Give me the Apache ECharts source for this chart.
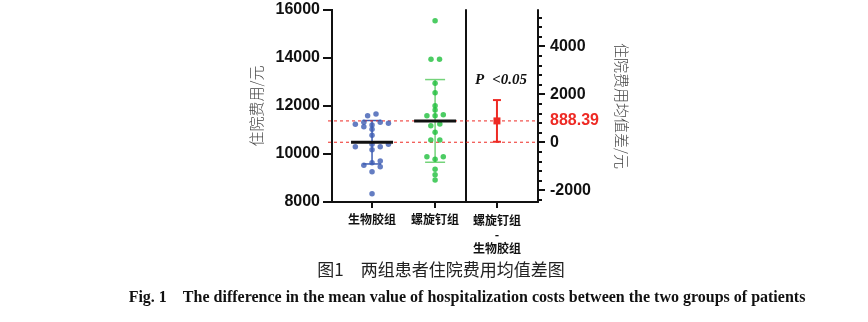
<!DOCTYPE html>
<html>
<head>
<meta charset="utf-8">
<script src="https://cdn.jsdelivr.net/npm/echarts@6/dist/echarts.min.js"></script>
<style>html,body{margin:0;padding:0;background:#fff;}#c{width:868px;height:322px;}</style>
</head>
<body>
<div id="c"></div>
<script>
// ---- data ----
const categories = ['生物胶组', '螺旋钉组', '螺旋钉组\n-\n生物胶组'];
const bioGlueCost   = [11596, 11667, 11237, 11320, 11140, 11208, 11320, 11279, 11029, 10779, 10304, 10404, 10304, 10404, 10179, 9708, 9529, 9638, 9471, 9263, 8346];
const bioGlueJitter = [-0.07, 0.063, -0.265, -0.13, -0.13, 0, 0.13, 0.26, 0, 0, -0.265, 0, 0.13, 0.26, 0, 0.13, -0.13, 0, 0.13, 0, 0];
const screwCost     = [15554, 13946, 13946, 12946, 12554, 12013, 11833, 11596, 11596, 11638, 11179, 11250, 10904, 10583, 10583, 9888, 9779, 9888, 9363, 9138, 8917];
const screwJitter   = [0, -0.065, 0.07, 0, 0, 0, 0, -0.13, 0, 0.13, -0.068, 0.075, 0, -0.068, 0.075, -0.13, 0, 0.13, 0, 0, 0];
const groupMeans = [10490, 11378.39];
const groupSDs   = [905, 1723];
const meanDiff = 888.39;
const diffCI = [20, 1757];
const leftTicks = [8000, 10000, 12000, 14000, 16000];
const rightMajorTicks = [-2000, 0, 2000, 4000];
const rightMinorTicks = [-2400, -1600, -1200, -800, -400, 400, 800, 1200, 1600, 2400, 2800, 3200, 3600, 4400, 4800, 5200];
const pText = ['P', '<0.05'];
const yNameLeft = '住院费用/元';
const yNameRight = '住院费用均值差/元';
const captionCN = '图1　两组患者住院费用均值差图';
const captionEN = 'Fig. 1　The difference in the mean value of hospitalization costs between the two groups of patients';

// ---- chart ----
const BLUE = '#3d5db3', GREEN = '#1fbf3c', RED = '#ee2a24', INK = '#111';
const diffMin = leftTicks[0] - groupMeans[0], diffMax = leftTicks[leftTicks.length - 1] - groupMeans[0];
const axisFont = { fontFamily: 'Liberation Sans, Arial', fontWeight: 'bold', fontSize: 16, color: INK, formatter: v => String(v) };
const dash = { stroke: RED, lineWidth: 1, lineDash: [3, 3] };

const chart = echarts.init(document.getElementById('c'), null, { renderer: 'canvas' });
chart.setOption({
  animation: false,
  backgroundColor: '#fff',
  grid: [
    { left: 332, top: 10, width: 134, height: 192 },
    { left: 466, top: 10, width: 72, height: 192 }
  ],
  xAxis: [
    { gridIndex: 0, type: 'value', min: -0.635, max: 1.49, splitLine: { show: false },
      axisLine: { show: true, onZero: false, lineStyle: { color: INK, width: 2 } },
      axisTick: { show: true, inside: false, length: 6, customValues: [0, 1], lineStyle: { color: INK, width: 2 } },
      axisLabel: { customValues: [0, 1], formatter: v => categories[Math.round(v)], margin: 11,
        fontFamily: 'Noto Sans CJK SC', fontWeight: 'bold', fontSize: 12, color: INK } },
    { gridIndex: 1, type: 'value', min: -0.43, max: 0.57, splitLine: { show: false },
      axisLine: { show: true, onZero: false, lineStyle: { color: INK, width: 2 } },
      axisTick: { show: true, inside: false, length: 6, customValues: [0], lineStyle: { color: INK, width: 2 } },
      axisLabel: { customValues: [0], formatter: () => categories[2], margin: 11, lineHeight: 14,
        fontFamily: 'Noto Sans CJK SC', fontWeight: 'bold', fontSize: 12, color: INK } }
  ],
  yAxis: [
    { gridIndex: 0, type: 'value', position: 'left', min: leftTicks[0], max: leftTicks[leftTicks.length - 1], interval: 2000, splitLine: { show: false },
      axisLine: { show: true, onZero: false, lineStyle: { color: INK, width: 2 } },
      axisTick: { show: true, length: 9, lineStyle: { color: INK, width: 2 } },
      axisLabel: Object.assign({ margin: 12 }, axisFont),
      name: yNameLeft, nameLocation: 'middle', nameRotate: 90, nameGap: 68,
      nameTextStyle: { fontFamily: 'Noto Sans CJK SC', fontSize: 15, color: '#444', fontWeight: 300 } },
    { gridIndex: 1, type: 'value', position: 'left', min: diffMin, max: diffMax, splitLine: { show: false },
      axisLine: { show: true, onZero: false, lineStyle: { color: INK, width: 2 } },
      axisTick: { show: false }, axisLabel: { show: false } },
    { gridIndex: 1, type: 'value', position: 'right', min: diffMin, max: diffMax, splitLine: { show: false },
      axisLine: { show: true, onZero: false, lineStyle: { color: INK, width: 2 } },
      axisTick: { show: true, length: 7, customValues: rightMajorTicks, lineStyle: { color: INK, width: 2 } },
      axisLabel: Object.assign({ margin: 12, customValues: rightMajorTicks }, axisFont),
      name: yNameRight, nameLocation: 'middle', nameRotate: -90, nameGap: 76,
      nameTextStyle: { fontFamily: 'Noto Sans CJK SC', fontSize: 15, color: '#444', fontWeight: 300 } },
    { gridIndex: 1, type: 'value', position: 'right', min: diffMin, max: diffMax, splitLine: { show: false },
      axisLine: { show: false, onZero: false },
      axisTick: { show: true, length: 4, customValues: rightMinorTicks, lineStyle: { color: INK, width: 2 } },
      axisLabel: { show: false } }
  ],
  series: [
    // SD error bars + mean reference dashed lines (left panel)
    { type: 'custom', xAxisIndex: 0, yAxisIndex: 0, z: 1, clip: false,
      data: groupMeans.map((m, i) => [i, m, groupSDs[i]]),
      renderItem: (params, api) => {
        const cs = params.coordSys;
        const i = api.value(0), m = api.value(1), s = api.value(2);
        const t = api.coord([i, m + s]), b = api.coord([i, m - s]), c = api.coord([i, m]);
        const col = i === 0 ? BLUE : '#74d37a';
        const cw = i === 0 ? 9 : 10;
        const st = { stroke: col, lineWidth: 1.5 };
        const kids = [
          { type: 'line', shape: { x1: cs.x - 4, y1: c[1], x2: cs.x + cs.width, y2: c[1] }, style: dash },
          { type: 'line', shape: { x1: t[0], y1: t[1], x2: b[0], y2: b[1] }, style: st },
          { type: 'line', shape: { x1: t[0] - cw, y1: t[1], x2: t[0] + cw, y2: t[1] }, style: st },
          { type: 'line', shape: { x1: b[0] - cw, y1: b[1], x2: b[0] + cw, y2: b[1] }, style: st }
        ];
        if (params.dataIndex === 0) {
          kids.push({ type: 'line', shape: { x1: cs.x, y1: cs.y - 1, x2: cs.x, y2: cs.y + cs.height + 1 }, style: { stroke: INK, lineWidth: 2 } });
        }
        return { type: 'group', children: kids };
      } },
    { type: 'scatter', xAxisIndex: 0, yAxisIndex: 0, z: 2, symbolSize: 5.5,
      itemStyle: { color: BLUE },
      data: bioGlueCost.map((v, k) => [0 + bioGlueJitter[k], v]) },
    { type: 'scatter', xAxisIndex: 0, yAxisIndex: 0, z: 2, symbolSize: 5.5,
      itemStyle: { color: GREEN },
      data: screwCost.map((v, k) => [1 + screwJitter[k], v]) },
    { type: 'custom', xAxisIndex: 0, yAxisIndex: 0, z: 3,
      data: groupMeans.map((m, i) => [i, m]),
      renderItem: (params, api) => {
        const c = api.coord([api.value(0), api.value(1)]);
        return { type: 'line', shape: { x1: c[0] - 21, y1: c[1], x2: c[0] + 21, y2: c[1] },
          style: { stroke: INK, lineWidth: 3 } };
      } },
    // mean difference with CI (right panel)
    { type: 'custom', xAxisIndex: 1, yAxisIndex: 2, z: 3, clip: false,
      data: [[0, meanDiff, diffCI[0], diffCI[1]]],
      renderItem: (params, api) => {
        const cs = params.coordSys;
        const c = api.coord([0, api.value(1)]), z0 = api.coord([0, 0]);
        const lo = api.coord([0, api.value(2)]), hi = api.coord([0, api.value(3)]);
        const st = { stroke: RED, lineWidth: 2 };
        return { type: 'group', children: [
          { type: 'line', shape: { x1: cs.x, y1: z0[1], x2: cs.x + cs.width, y2: z0[1] }, style: dash },
          { type: 'line', shape: { x1: cs.x, y1: c[1], x2: cs.x + cs.width, y2: c[1] }, style: dash },
          { type: 'line', shape: { x1: hi[0], y1: hi[1], x2: lo[0], y2: lo[1] }, style: st },
          { type: 'line', shape: { x1: hi[0] - 4, y1: hi[1], x2: hi[0] + 4, y2: hi[1] }, style: st },
          { type: 'line', shape: { x1: lo[0] - 4, y1: lo[1], x2: lo[0] + 4, y2: lo[1] }, style: st },
          { type: 'rect', shape: { x: c[0] - 3.5, y: c[1] - 3.5, width: 7, height: 7 }, style: { fill: RED } },
          { type: 'text', x: cs.x + cs.width + 12, y: c[1], style: { text: String(api.value(1)), align: 'left', verticalAlign: 'middle',
              fill: RED, fontFamily: 'Liberation Sans, Arial', fontWeight: 'bold', fontSize: 16 } }
        ] };
      } }
  ],
  graphic: [
    { type: 'text', x: 501, y: 80, style: { text: '{p|' + pText[0] + '}{q|' + pText[1] + '}', align: 'center', verticalAlign: 'middle',
        rich: {
          p: { fontFamily: 'Liberation Serif, Times New Roman', fontStyle: 'italic', fontWeight: 'bold', fontSize: 15, fill: INK, padding: [0, 8, 0, 0] },
          q: { fontFamily: 'Liberation Serif, Times New Roman', fontStyle: 'italic', fontWeight: 'bold', fontSize: 15, fill: INK }
        } } },
    { type: 'text', x: 441, y: 270, style: { text: captionCN, align: 'center', verticalAlign: 'middle', fontFamily: 'Noto Sans CJK SC', fontSize: 17, fill: '#222' } },
    { type: 'text', x: 467, y: 298, style: { text: captionEN, align: 'center', verticalAlign: 'middle', fontFamily: 'Liberation Serif, Times New Roman', fontWeight: 'bold', fontSize: 16, fill: INK } }
  ]
});
</script>
</body>
</html>
